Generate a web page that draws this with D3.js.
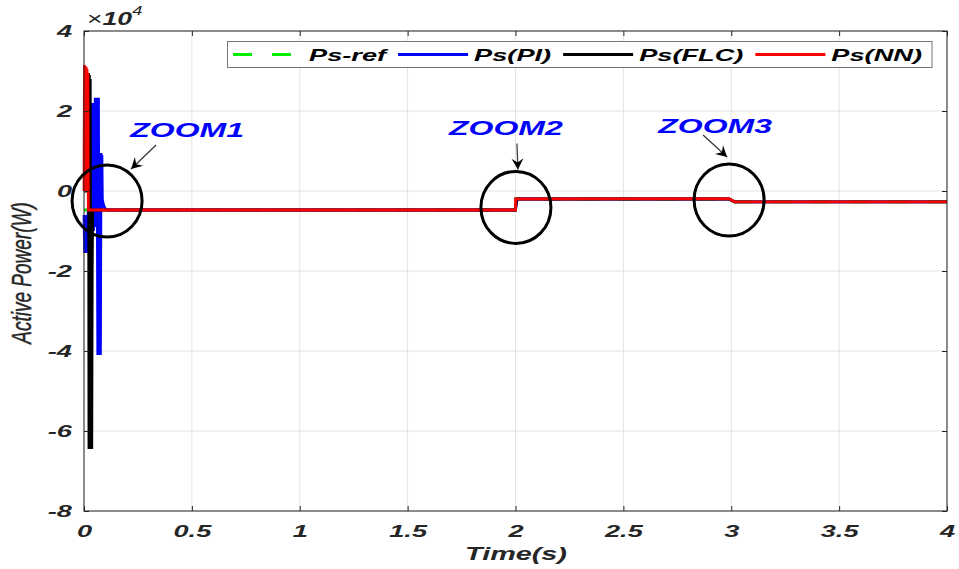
<!DOCTYPE html>
<html>
<head>
<meta charset="utf-8">
<script src="https://cdn.jsdelivr.net/npm/d3@7"></script>
<style>
  body { margin: 0; background: #fff; }
  svg { display: block; }
  text { font-family: "Liberation Sans", Arial, sans-serif; }
</style>
</head>
<body>
<svg id="chart" width="959" height="569"></svg>
<script>
// ---- data (time in s, power in W) ----
var xTicks = [0, 0.5, 1, 1.5, 2, 2.5, 3, 3.5, 4];
var xTickLabels = ['0', '0.5', '1', '1.5', '2', '2.5', '3', '3.5', '4'];
var yTicks = [40000, 20000, 0, -20000, -40000, -60000, -80000];
var yTickLabels = ['4', '2', '0', '-2', '-4', '-6', '-8'];
var seriesNames = ['Ps-ref', 'Ps(PI)', 'Ps(FLC)', 'Ps(NN)'];

var psRef = [[0, -4750], [2, -4750], [2, -2000], [3, -2000], [3, -2700], [4, -2700]];

var psPI = [[0, -6000], [0.003, -15500], [0.006, -6000], [0.009, -15000], [0.012, -7000],
  [0.015, -15500], [0.024, 5000], [0.034, 15000], [0.038, 22000], [0.040, -10000], [0.042, 22000],
  [0.044, -10000], [0.046, 22000], [0.049, -9000], [0.052, 23300], [0.056, -8000],
  [0.060, 23300], [0.064, -41000], [0.067, 23300], [0.070, -41000], [0.073, 9500],
  [0.076, -41000], [0.079, 9500], [0.081, -4750], [0.083, 9000], [0.085, -2000],
  [0.089, -3200], [0.094, -4000], [0.100, -4500], [0.110, -4750],
  [2.0, -4750], [2.004, -2700], [2.012, -2000], [2.99, -2000], [3.015, -2700], [4, -2700]];

var psFLC = [[0, 0], [0.018, 0], [0.021, 29500], [0.023, -64500], [0.025, 29000],
  [0.027, -64500], [0.029, 28000], [0.031, -64500], [0.034, -5000], [0.036, -64500],
  [0.038, -20000], [0.040, -4750],
  [2.0, -4750], [2.006, -2000], [2.99, -2000], [3.015, -2700], [4, -2700]];

var psNN = [[0, 0], [0.002, 31500], [0.004, 0], [0.006, 31200], [0.008, 0],
  [0.010, 31000], [0.012, 0], [0.014, 30500], [0.016, 0], [0.018, 29500], [0.020, -4750],
  [2.0, -4750], [2.0, -2000], [2.99, -1900], [3.015, -2700], [4, -2700]];

var zoomNames = ['ZOOM1', 'ZOOM2', 'ZOOM3'];
var zoomAt = [[0.107, -2500], [2.002, -4100], [2.99, -2250]];

// ---- layout ----
var pLeft = 84, pRight = 947, pTop = 31, pBottom = 511;
var sx = 1.6; // the original figure is stretched horizontally
var colors = ['#00ee00', '#0000ff', '#000000', '#ff0000'];

var svg = d3.select('#chart');
var x = d3.scaleLinear().domain([0, 4]).range([pLeft, pRight]);
var y = d3.scaleLinear().domain([-80000, 40000]).range([pBottom, pTop]);

// grid
svg.append('g').selectAll('line').data(xTicks).enter().append('line')
  .attr('x1', function(d) { return x(d); }).attr('x2', function(d) { return x(d); })
  .attr('y1', pTop).attr('y2', pBottom)
  .style('stroke', '#e3e3e3').style('stroke-width', 1);
svg.append('g').selectAll('line').data(yTicks).enter().append('line')
  .attr('x1', pLeft).attr('x2', pRight)
  .attr('y1', function(d) { return y(d); }).attr('y2', function(d) { return y(d); })
  .style('stroke', '#e3e3e3').style('stroke-width', 1);

// lines
svg.append('defs').append('clipPath').attr('id', 'clip')
  .append('rect').attr('x', pLeft - 3).attr('y', pTop).attr('width', pRight - pLeft + 3).attr('height', pBottom - pTop);

var line = d3.line().x(function(d) { return x(d[0]); }).y(function(d) { return y(d[1]); });
var plot = svg.append('g').attr('clip-path', 'url(#clip)');
[psRef, psPI, psFLC, psNN].forEach(function(s, i) {
  plot.append('path').datum(s)
    .attr('d', line)
    .style('fill', 'none')
    .style('stroke', colors[i])
    .style('stroke-width', 2.8)
    .style('stroke-linejoin', 'miter')
    .style('stroke-dasharray', i === 0 ? '19,20' : null);
});

// axes
function styleAxis(g) {
  g.selectAll('.domain').remove();
  g.selectAll('line').style('stroke', '#262626');
}
svg.append('g').attr('transform', 'translate(0,' + pBottom + ')')
  .call(d3.axisBottom(x).tickValues(xTicks).tickSize(-5).tickFormat(function(d, i) { return xTickLabels[i]; }))
  .call(styleAxis)
  .selectAll('text').attr('y', 14)
  .attr('transform', 'scale(' + sx + ',1)')
  .style('font-size', '17px').style('font-weight', 'bold').style('font-style', 'italic').style('fill', '#262626');
svg.append('g').attr('transform', 'translate(0,' + pTop + ')')
  .call(d3.axisTop(x).tickValues(xTicks).tickSize(-5).tickFormat(''))
  .call(styleAxis);
svg.append('g').attr('transform', 'translate(' + pLeft + ',0)')
  .call(d3.axisLeft(y).tickValues(yTicks).tickSize(-5).tickFormat(function(d, i) { return yTickLabels[i]; }))
  .call(styleAxis)
  .selectAll('text').attr('x', -12 / sx)
  .attr('transform', 'scale(' + sx + ',1)')
  .style('font-size', '17px').style('font-weight', 'bold').style('font-style', 'italic').style('fill', '#262626');
svg.append('g').attr('transform', 'translate(' + pRight + ',0)')
  .call(d3.axisRight(y).tickValues(yTicks).tickSize(-5).tickFormat(''))
  .call(styleAxis);

svg.append('rect').attr('x', pLeft).attr('y', pTop).attr('width', pRight - pLeft).attr('height', pBottom - pTop)
  .style('fill', 'none').style('stroke', '#262626').style('stroke-width', 1);

// exponent
var ex = svg.append('text').attr('transform', 'translate(87,25) scale(1.4,1)')
  .style('font-size', '19px').style('fill', '#262626');
ex.append('tspan').text('\u00d7');
ex.append('tspan').style('font-weight', 'bold').style('font-style', 'italic').text('10');
ex.append('tspan').attr('dy', -10).style('font-size', '13px').style('font-style', 'italic').text('4');

// axis titles
svg.append('text').attr('transform', 'translate(516,560) scale(' + sx + ',1)')
  .attr('text-anchor', 'middle')
  .style('font-size', '18px').style('font-weight', 'bold').style('font-style', 'italic').style('fill', '#262626')
  .text('Time(s)');
svg.append('text').attr('transform', 'translate(31,273) scale(1.45,1) rotate(-90)')
  .attr('text-anchor', 'middle')
  .style('font-size', '19px').style('font-style', 'italic').style('fill', '#262626')
  .style('stroke', '#262626').style('stroke-width', 0.3)
  .text('Active Power(W)');

// legend
var legend = svg.append('g');
var box = legend.append('rect').attr('x', 227.5).attr('y', 41.5).attr('height', 26)
  .style('fill', '#fff').style('stroke', '#777').style('stroke-width', 1);
var lx = 233;
seriesNames.forEach(function(name, i) {
  legend.append('line').attr('x1', lx).attr('x2', lx + 70).attr('y1', 54.5).attr('y2', 54.5)
    .style('stroke', colors[i]).style('stroke-width', 3)
    .style('stroke-dasharray', i === 0 ? '19,20' : null);
  var t = legend.append('text').attr('transform', 'translate(' + (lx + 76) + ',60.5) scale(' + sx + ',1)')
    .style('font-size', '17px').style('font-weight', 'bold').style('font-style', 'italic').style('fill', '#000')
    .text(name);
  lx += 76 + t.node().getComputedTextLength() * sx + 12;
});
box.attr('width', lx - 12 + 10 - 227.5);

// zoom annotations
svg.append('defs').append('marker').attr('id', 'head')
  .attr('viewBox', '-12 -7 14 14').attr('refX', 0).attr('refY', 0)
  .attr('markerWidth', 14).attr('markerHeight', 14).attr('markerUnits', 'userSpaceOnUse')
  .attr('orient', 'auto')
  .append('path').attr('d', 'M0,0 L-11,-6 L-7,0 L-11,6 Z').style('fill', '#000');

var labelOff = [[80, -64], [-10, -72], [-14, -67]];
var arrowFrom = [[49, -56], [1, -64], [-26, -65]];
var arrowTo = [[24, -32], [2, -38], [-2, -43]];
zoomNames.forEach(function(name, i) {
  var cx = x(zoomAt[i][0]), cy = y(zoomAt[i][1]);
  svg.append('ellipse').attr('cx', cx).attr('cy', cy).attr('rx', 35).attr('ry', 36)
    .style('fill', 'none').style('stroke', '#000').style('stroke-width', 3);
  svg.append('line')
    .attr('x1', cx + arrowFrom[i][0]).attr('y1', cy + arrowFrom[i][1])
    .attr('x2', cx + arrowTo[i][0]).attr('y2', cy + arrowTo[i][1])
    .attr('marker-end', 'url(#head)')
    .style('stroke', '#333').style('stroke-width', 1.2);
  svg.append('text').attr('transform', 'translate(' + (cx + labelOff[i][0]) + ',' + (cy + labelOff[i][1]) + ') scale(' + sx + ',1)')
    .attr('text-anchor', 'middle')
    .style('font-size', '20px').style('font-weight', 'bold').style('font-style', 'italic').style('fill', '#0000ff')
    .text(name);
});
</script>
</body>
</html>
